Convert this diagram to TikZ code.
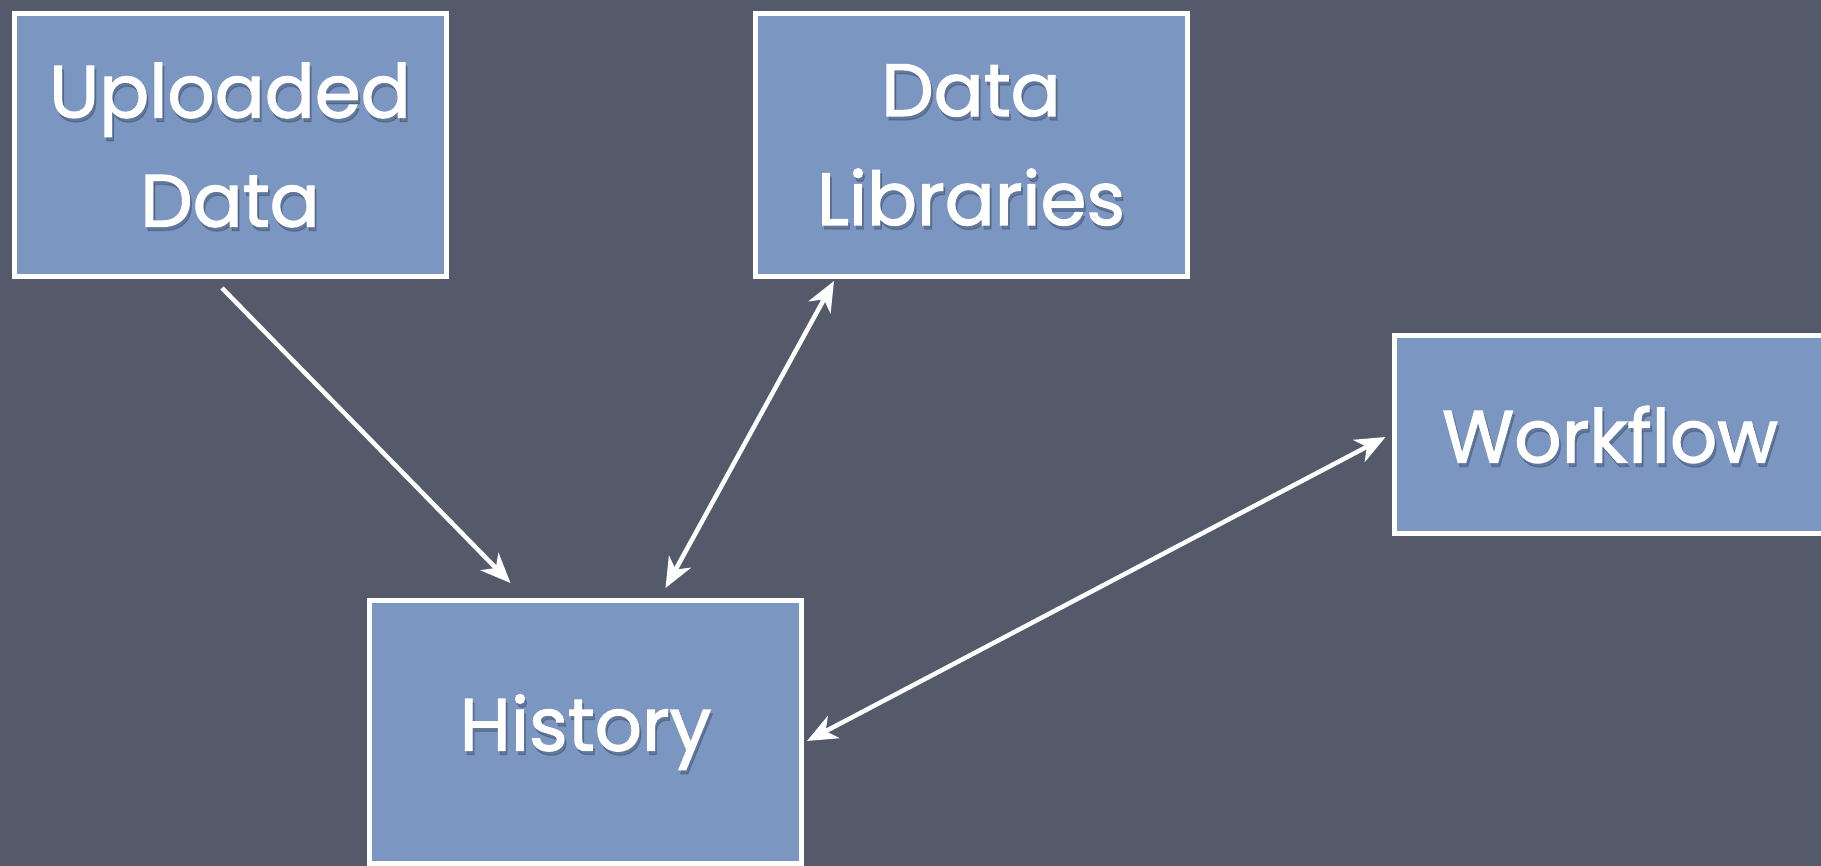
\documentclass[tikz,border=0pt]{standalone}
\usepackage{fontspec}
\setmainfont{Poppins}[FakeBold=1.6]
\usetikzlibrary{arrows.meta}
\definecolor{slate}{RGB}{84,90,106}
\definecolor{boxblue}{RGB}{123,150,192}
\definecolor{shadowblue}{RGB}{50,62,90}
\tikzset{
  board/.style={draw=white, line width=5pt, fill=boxblue, rectangle,
    minimum width=432pt, minimum height=263pt, inner sep=0pt, outer sep=2.5pt},
  boardtext/.style={text=white, align=center,
    font=\fontsize{74}{109}\selectfont},
  softshadow/.style={text=shadowblue, opacity=0.35, align=center,
    font=\fontsize{74}{109}\selectfont},
  link/.style={draw=white, line width=4.5pt,
    >={Stealth[length=30pt,width=25pt,inset=9pt]}},
}
\begin{document}
\begin{tikzpicture}[x=1pt,y=-1pt]
  \useasboundingbox (0,0) rectangle (1821,866);
  \clip (0,0) rectangle (1821,866);
  % chalkboard background
  \fill[slate] (0,0) rectangle (1821,866);

  % boxes
  \node[board] (up)  at (230,145)   {};
  \node[board] (lib) at (971,145)   {};
  \node[board, minimum height=198pt] (wf) at (1610,434.5) {};
  \node[board] (his) at (585.5,732) {};

  % labels with a soft drop shadow
  \node[softshadow] at ([xshift=2pt,yshift=-4pt]up.center) {Uploaded\\Data};
  \node[boardtext]  at (up.center)  {Uploaded\\Data};
  \node[softshadow] at ([xshift=2pt,yshift=-4pt]lib.center) {Data\\Libraries};
  \node[boardtext]  at (lib.center) {Data\\Libraries};
  \node[softshadow] at ([xshift=2pt,yshift=-4pt]wf.center) {Workflow};
  \node[boardtext]  at (wf.center)  {Workflow};
  \node[softshadow] at ([xshift=2pt,yshift=-4pt]his.center) {History};
  \node[boardtext]  at (his.center) {History};

  % connectors
  \draw[link,->] ([xshift=-8pt,yshift=-9pt]up.south) -- ([xshift=-75pt,yshift=15pt]his.north);
  \draw[link,<->] ([xshift=-137pt,yshift=-2pt]lib.south) -- ([xshift=80pt,yshift=10pt]his.north);
  \draw[link,<->] ([xshift=3pt,yshift=-9pt]his.east) -- ([xshift=-6pt,yshift=-2.5pt]wf.west);
\end{tikzpicture}
\end{document}
